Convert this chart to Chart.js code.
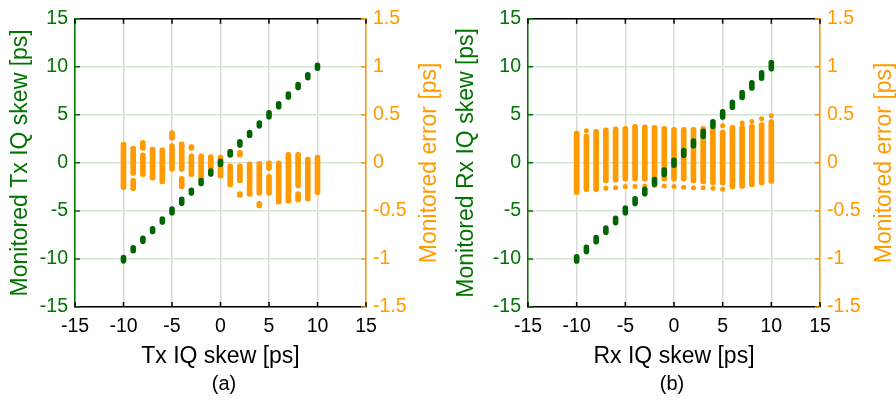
<!DOCTYPE html>
<html lang="en">
<head>
    <meta charset="UTF-8">
    <title>IQ skew monitoring</title>
    <script src="https://cdn.jsdelivr.net/npm/chart.js"></script>
    <style>
        body { margin: 0; background: #fff; }
        .wrap { display: flex; width: 896px; height: 400px; }
        .panel { width: 448px; height: 400px; }
        canvas { display: block; }
    </style>
</head>
<body>
<div class="wrap">
    <div class="panel"><canvas id="txChart" width="448" height="400"></canvas></div>
    <div class="panel"><canvas id="rxChart" width="448" height="400"></canvas></div>
</div>

<script>
    // Set IQ skew [ps] (x of every mark)
    const skewSet = [-10, -9, -8, -7, -6, -5, -4, -3, -2, -1, 0, 1, 2, 3, 4, 5, 6, 7, 8, 9, 10];

    // Axis ticks
    const skewTicks = [-15, -10, -5, 0, 5, 10, 15];
    const errTicks = [-1.5, -1, -0.5, 0, 0.5, 1, 1.5];

    // (a) Tx: spread of the monitored skew [ps]
    const txMonLo = [-10.2, -9.15, -8.15, -7.15, -6.15, -5.2, -4.2, -3.15, -2.15, -1.15, -0.15, 0.85, 1.85, 2.85, 3.85, 4.8, 5.85, 6.85, 7.85, 8.85, 9.85];
    const txMonHi = [-9.85, -8.85, -7.85, -6.85, -5.85, -4.8, -3.8, -2.85, -1.85, -0.85, 0.15, 1.15, 2.2, 3.15, 4.15, 5.2, 6.15, 7.15, 8.15, 9.15, 10.15];

    // (a) Tx: monitored error [ps], one entry per solid piece of the orange columns
    const txErrX  = [-10, -9, -9, -8, -8, -7, -6, -5, -5, -4, -4, -3, -3, -2, -1, 0, 1, 1, 2, 2, 2, 3, 4, 4, 5, 5, 6, 7, 8, 8, 9, 10];
    const txErrHi = [0.215, 0.175, -0.16, 0.235, 0.105, 0.165, 0.155, 0.335, 0.20, 0.22, -0.14, 0.19, 0.095, 0.095, 0.085, 0.08, 0.14, -0.01, 0.13, -0.01, -0.30, 0.01, 0.015, -0.40, 0.02, -0.12, 0.02, 0.11, 0.11, -0.30, 0.06, 0.08];
    const txErrLo = [-0.28, -0.13, -0.29, 0.13, -0.145, -0.18, -0.22, 0.235, -0.09, -0.09, -0.27, 0.13, -0.145, -0.18, -0.07, -0.16, 0.06, -0.25, 0.06, -0.21, -0.36, -0.35, -0.34, -0.47, -0.08, -0.34, -0.43, -0.42, -0.26, -0.41, -0.40, -0.33];

    // (b) Rx: spread of the monitored skew [ps]
    const rxMonLo = [-10.22, -9.22, -8.22, -7.22, -6.22, -5.2, -4.22, -3.22, -2.22, -1.22, -0.24, 0.78, 1.78, 2.78, 3.78, 4.77, 5.78, 6.8, 7.8, 8.8, 9.8];
    const rxMonHi = [-9.78, -8.78, -7.78, -6.78, -5.78, -4.7, -3.74, -2.74, -1.74, -0.74, 0.26, 1.28, 2.28, 3.28, 4.28, 5.3, 6.3, 7.32, 8.34, 9.36, 10.44];

    // (b) Rx: monitored error [ps], dense column per set skew
    const rxErrHi = [0.33, 0.30, 0.35, 0.365, 0.375, 0.38, 0.40, 0.395, 0.39, 0.38, 0.37, 0.37, 0.37, 0.38, 0.37, 0.34, 0.39, 0.39, 0.40, 0.42, 0.45];
    const rxErrLo = [-0.33, -0.30, -0.30, -0.21, -0.20, -0.19, -0.19, -0.19, -0.18, -0.19, -0.19, -0.19, -0.21, -0.22, -0.23, -0.23, -0.27, -0.265, -0.25, -0.23, -0.215];

    // (b) Rx: isolated error samples at the column ends [ps]
    const rxOutX = [-9, 5, 7, 8, 9, 10, -7, -6, -5, -4, -3, -2, -1, 0, 1, 2, 3, 4, 5];
    const rxOutY = [0.335, 0.385, 0.415, 0.43, 0.46, 0.49, -0.265, -0.26, -0.245, -0.245, -0.24, -0.235, -0.24, -0.245, -0.255, -0.26, -0.26, -0.265, -0.275];

    const GREEN = 'rgb(0,115,0)';
    const GREEN_DOT = 'rgb(0,100,0)';
    const ORANGE = '#ff9a00';
    const TICK_FONT = { size: 19.5 };
    const TITLE_FONT = { size: 23 };

    Chart.defaults.font.family = "'Liberation Sans', Arial, sans-serif";

    // each monitored mark as a short vertical stroke from lo to hi
    function markPoints(lo, hi) {
        const pts = [];
        skewSet.forEach((x, i) => {
            pts.push({ x: x, y: lo[i] }, { x: x, y: hi[i] }, { x: x, y: null });
        });
        return pts;
    }

    // black top edge, inward tick marks and the right axis title
    const frameTicks = {
        id: 'frameTicks',
        afterDatasetsDraw(chart, args, opts) {
            const { ctx, chartArea: a, scales } = chart;
            const len = 5;
            ctx.save();
            ctx.lineWidth = 1.5;

            ctx.strokeStyle = '#000';
            ctx.beginPath();
            ctx.moveTo(a.left, a.top);
            ctx.lineTo(a.right, a.top);
            scales.x.ticks.forEach(t => {
                const px = scales.x.getPixelForValue(t.value);
                ctx.moveTo(px, a.bottom);
                ctx.lineTo(px, a.bottom - len);
                ctx.moveTo(px, a.top);
                ctx.lineTo(px, a.top + len);
            });
            ctx.stroke();

            ctx.strokeStyle = GREEN;
            ctx.beginPath();
            scales.y.ticks.forEach(t => {
                const py = scales.y.getPixelForValue(t.value);
                ctx.moveTo(a.left, py);
                ctx.lineTo(a.left + len, py);
            });
            ctx.stroke();

            ctx.strokeStyle = ORANGE;
            ctx.beginPath();
            scales.y2.ticks.forEach(t => {
                const py = scales.y2.getPixelForValue(t.value);
                ctx.moveTo(a.right, py);
                ctx.lineTo(a.right - len, py);
            });
            ctx.stroke();

            // right title reads bottom to top, like the left one
            ctx.translate(chart.width - opts.offset, (a.top + a.bottom) / 2);
            ctx.rotate(-Math.PI / 2);
            ctx.fillStyle = ORANGE;
            ctx.font = TITLE_FONT.size + 'px ' + Chart.defaults.font.family;
            ctx.textAlign = 'center';
            ctx.textBaseline = 'middle';
            ctx.fillText(opts.text, 0, 0);
            ctx.restore();
        }
    };

    function makePanel(id, p) {
        return new Chart(document.getElementById(id), {
            type: 'scatter',
            data: {
                datasets: [
                    {
                        type: 'line',
                        data: markPoints(p.monLo, p.monHi),
                        yAxisID: 'y',
                        showLine: true,
                        borderColor: GREEN_DOT,
                        borderWidth: 5.6,
                        borderCapStyle: 'round',
                        pointRadius: 0,
                        fill: false,
                        spanGaps: false,
                        order: 0
                    },
                    {
                        type: 'scatter',
                        data: p.outliers,
                        yAxisID: 'y2',
                        backgroundColor: ORANGE,
                        borderWidth: 0,
                        pointRadius: 2.5,
                        order: 1
                    },
                    {
                        type: 'bar',
                        data: p.errors,
                        yAxisID: 'y2',
                        backgroundColor: ORANGE,
                        barThickness: 5,
                        borderRadius: 3,
                        borderSkipped: false,
                        order: 2
                    }
                ]
            },
            options: {
                responsive: false,
                animation: false,
                layout: { padding: { top: 15, left: 0, right: 0, bottom: 0 } },
                plugins: {
                    legend: { display: false },
                    tooltip: { enabled: false },
                    title: {
                        display: true,
                        position: 'bottom',
                        text: p.tag,
                        color: '#000',
                        font: { size: 20, weight: 'normal' },
                        padding: { top: 0, bottom: 4 }
                    },
                    frameTicks: { text: 'Monitored error [ps]', offset: p.rightTitleOffset }
                },
                scales: {
                    x: {
                        type: 'linear',
                        min: -15,
                        max: 15,
                        offset: false,
                        afterBuildTicks: s => { s.ticks = skewTicks.map(v => ({ value: v })); },
                        afterFit: s => { s.height = 65; },
                        grid: { color: '#d9d9d9', lineWidth: 1.5, drawTicks: false, offset: false },
                        border: { color: '#000', width: 1.5 },
                        ticks: { color: '#000', font: TICK_FONT, padding: 8, callback: v => String(v) },
                        title: { display: true, text: p.xTitle, color: '#000', font: TITLE_FONT, padding: { top: 0, bottom: 2 } }
                    },
                    y: {
                        type: 'linear',
                        position: 'left',
                        min: -15,
                        max: 15,
                        afterBuildTicks: s => { s.ticks = skewTicks.map(v => ({ value: v })); },
                        afterFit: s => { s.width = p.leftW; },
                        grid: { color: '#d5e6d5', lineWidth: 1.5, drawTicks: false },
                        border: { color: GREEN, width: 1.5 },
                        ticks: { color: GREEN, font: TICK_FONT, padding: 7, callback: v => String(v) },
                        title: { display: true, text: p.yTitle, color: GREEN, font: TITLE_FONT, padding: { top: p.leftTitlePad, bottom: 0 } }
                    },
                    y2: {
                        type: 'linear',
                        position: 'right',
                        min: -1.5,
                        max: 1.5,
                        afterBuildTicks: s => { s.ticks = errTicks.map(v => ({ value: v })); },
                        afterFit: s => { s.width = p.rightW; },
                        grid: { drawOnChartArea: false, drawTicks: false },
                        border: { color: ORANGE, width: 1.5 },
                        ticks: { color: ORANGE, font: TICK_FONT, padding: 7, callback: v => String(v) }
                    }
                }
            },
            plugins: [frameTicks]
        });
    }

    // (a) Tx
    makePanel('txChart', {
        tag: '(a)',
        xTitle: 'Tx IQ skew [ps]',
        yTitle: 'Monitored Tx IQ skew [ps]',
        monLo: txMonLo,
        monHi: txMonHi,
        errors: txErrX.map((x, i) => ({ x: x, y: [txErrLo[i], txErrHi[i]] })),
        outliers: [],
        leftW: 75,
        rightW: 82,
        leftTitlePad: 7,
        rightTitleOffset: 18
    });

    // (b) Rx
    makePanel('rxChart', {
        tag: '(b)',
        xTitle: 'Rx IQ skew [ps]',
        yTitle: 'Monitored Rx IQ skew [ps]',
        monLo: rxMonLo,
        monHi: rxMonHi,
        errors: skewSet.map((x, i) => ({ x: x, y: [rxErrLo[i], rxErrHi[i]] })),
        outliers: rxOutX.map((x, i) => ({ x: x, y: rxOutY[i] })),
        leftW: 80,
        rightW: 76,
        leftTitlePad: 5,
        rightTitleOffset: 11
    });
</script>
</body>
</html>
